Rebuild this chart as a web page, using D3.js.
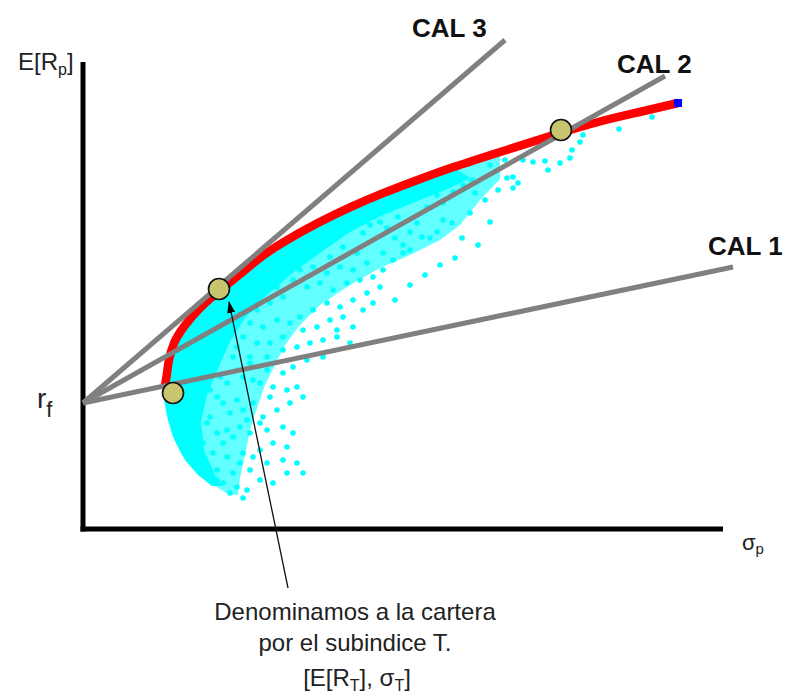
<!DOCTYPE html>
<html><head><meta charset="utf-8">
<script src="https://cdn.jsdelivr.net/npm/d3@7"></script>
<style>html,body{margin:0;padding:0;background:#fff;} svg{display:block;}</style>
</head><body><svg id="chart" width="790" height="696"></svg>
<script>
// ---------- data (sigma_p, E[R_p]) in chart units ----------
const riskFree = 12.6;
const frontier = [[8.2,14.4],[8.4,15.4],[8.5,16.6],[9.0,18.6],[10.0,20.2],[11.7,22.2],[13.7,23.9],[15.4,25.2],[17.7,27.2],[20.0,28.7],[23.4,30.6],[26.7,32.2],[30.0,33.6],[33.4,34.9],[36.7,36.1],[41.7,37.7],[47.7,39.6],[51.7,40.8],[55.7,41.7],[59.5,42.6]];
// mostly-covered (speckled) part of the feasible set: lower boundary
const cloudLower = [[41.7,35.0],[39.7,32.9],[37.7,30.4],[35.7,28.9],[32.7,27.4],[29.7,26.1],[26.7,24.4],[23.7,22.4],[21.7,20.4],[20.2,18.4],[19.2,16.4],[18.2,14.4],[17.5,12.4],[16.7,9.9],[16.2,7.4],[15.7,5.1],[15.5,3.4],[14.5,3.5],[12.9,4.5],[11.3,5.7],[9.9,7.4],[8.9,9.4],[8.3,11.7],[8.1,13.7]];
// solid part of the feasible set next to the frontier
const denseInner = [[38.7,35.1],[36.7,34.1],[33.7,32.9],[30.0,31.4],[26.7,29.7],[23.4,27.4],[20.7,25.4],[18.2,23.2],[16.2,21.1],[14.7,18.7],[13.5,16.1],[12.4,13.4],[11.8,10.7],[12.1,7.9],[13.2,5.4],[13.9,4.3]];
const denseLeft = [[12.9,4.3],[11.5,5.4],[10.2,6.9],[9.2,8.8],[8.5,10.9],[8.1,12.9],[8.1,14.1]];
const portfolios = [
[28.4,32.4],[29.7,32.7],[30.7,31.9],[31.5,31.2],[32.4,32.7],[33.4,33.1],[34.4,32.2],[35.4,33.4],[36.0,32.6],[37.0,33.7],[38.0,34.4],[38.9,34.9],[39.2,33.6],[36.9,30.6],[35.4,29.7],[34.7,29.1],[36.0,30.9],[33.4,30.6],[32.7,29.7],[33.9,29.2],[32.0,28.4],[31.2,29.1],[30.4,30.1],[29.7,30.7],[28.7,30.4],[28.0,29.6],[30.0,27.6],[31.0,26.9],[32.0,27.6],[32.7,27.9],
[20.7,28.2],[22.0,27.6],[23.4,27.9],[24.7,27.2],[26.0,28.2],[27.4,27.6],[28.4,26.6],[27.0,25.9],[25.7,26.2],[24.4,25.6],[23.0,26.2],[21.7,25.9],[21.0,24.9],[22.4,24.2],[23.7,24.6],[25.0,23.9],[26.4,24.6],[27.7,24.9],[29.0,25.2],[30.0,25.9],[29.7,24.2],[28.4,23.6],[27.0,22.9],[25.7,22.2],[24.4,22.6],[23.0,21.9],[21.7,21.2],[20.7,20.6],[22.0,19.9],[23.4,20.2],[24.7,20.9],[26.0,21.2],[27.0,20.2],[25.4,19.2],[24.0,18.9],[22.7,18.6],[21.4,18.2],[26.7,18.6],[24.0,17.2],[22.4,16.9],[21.0,16.2],[25.4,19.9],[28.0,21.9],[29.0,22.6],
[15.0,17.2],[16.7,16.6],[18.4,15.9],[20.0,15.6],[17.7,14.6],[16.0,15.2],[14.4,14.6],[13.4,13.2],[15.4,12.9],[17.0,12.6],[18.7,13.2],[20.4,13.9],[21.4,14.2],[20.7,12.6],[19.4,11.9],[18.0,11.2],[16.4,10.9],[14.7,11.6],[12.7,11.2],[13.4,9.6],[15.0,9.2],[16.7,9.6],[18.4,9.9],[20.0,10.2],[21.0,9.6],[20.4,8.2],[19.0,8.6],[17.7,7.9],[16.0,7.6],[14.4,7.2],[13.4,5.9],[15.0,5.6],[16.7,5.9],[18.4,6.6],[20.0,6.9],[21.4,6.6],[22.0,5.6],[20.4,5.6],[19.0,4.6],[17.7,4.9],[16.4,3.9],[15.4,4.2],[14.7,3.6],[16.0,3.1],[22.0,13.2],
[11.7,12.6],[12.4,10.6],[12.0,8.6],[13.0,7.6],[14.0,8.6],[14.4,9.9],[15.7,10.2],[14.0,12.6],[12.7,13.9],[13.7,15.2],[15.4,15.9],[17.0,14.9],[14.0,4.6],[13.4,4.9],[17.0,7.2],[15.7,6.6],[17.7,10.6],[16.0,11.9],[19.0,14.2],
[17.4,21.9],[18.7,22.6],[19.4,20.9],[18.0,20.2],[16.7,20.6],[16.0,19.2],[17.4,18.6],[18.7,18.6],[20.0,19.2],[20.0,17.9],[18.4,17.2],[16.7,17.2],[15.4,18.2],[15.0,20.2],[20.0,23.2],[19.4,24.2],
[42.4,35.1],[43.0,35.2],[43.5,34.6],[43.0,34.1],[44.0,36.9],[45.0,36.7],[46.2,36.8],[46.5,35.9],[47.7,36.6],[48.7,37.1],[48.9,37.9],[49.7,38.7],[50.0,39.4],[53.6,40.0],[56.9,41.2],
[40.7,36.4],[41.5,33.9],[40.2,32.9],[38.7,31.6],[40.7,30.7],[37.9,29.1],[39.5,28.4],[37.2,27.1],[35.7,26.4],[34.2,25.4],[32.7,24.4],[31.2,22.9],[42.2,36.9]
];
const calNames = ["CAL 1", "CAL 2", "CAL 3"];
const calEnds = [[65.0,26.2],[58.2,45.3],[42.2,48.9]];
const tangentPoints = [[9.0,13.6],[47.8,39.9],[13.6,24.0]];
const arrowTip = [14.6,22.7];
const arrowTail = [20.5,-5.9];
const yAxisTop = 46.7;
const xAxisEnd = 64;
const noteLines = ["Denominamos a la cartera", "por el subindice T."];

// ---------- layout ----------
const svg = d3.select("#chart");
const x = d3.scaleLinear().domain([0, 64]).range([83, 723]);
const y = d3.scaleLinear().domain([0, 48]).range([529, 49]);
const font = "'Liberation Sans', Arial, Helvetica, sans-serif";
const poly = d3.line().x(d => x(d[0])).y(d => y(d[1])).curve(d3.curveLinearClosed);

// speckled part of the feasible set
const cloudPoly = frontier.filter(d => d[0] <= 41.7).map(d => [d[0], d[1] + 0.3]).concat(cloudLower);
svg.append("path").attr("d", poly(cloudPoly))
  .attr("fill", "#00ffff").attr("fill-opacity", 0.62);

// dense part of the feasible set
const densePoly = frontier.filter(d => d[0] <= 37).map(d => [d[0], d[1] + 0.3]).concat(denseInner, denseLeft);
svg.append("path").attr("d", poly(densePoly)).attr("fill", "#00ffff");

// individual portfolios
svg.append("g").selectAll("circle").data(portfolios).join("circle")
  .attr("cx", d => x(d[0])).attr("cy", d => y(d[1])).attr("r", 2.8)
  .attr("fill", "#00ffff");

// efficient frontier
svg.append("path")
  .attr("d", d3.line().x(d => x(d[0])).y(d => y(d[1])).curve(d3.curveBasis)(frontier))
  .attr("fill", "none").attr("stroke", "#ff0000").attr("stroke-width", 8.5)
  .attr("stroke-linecap", "butt");
// blue ends of frontier
const lastF = frontier[frontier.length - 1], firstF = frontier[0];
svg.append("rect").attr("x", x(lastF[0]) - 4).attr("y", y(lastF[1]) - 4)
  .attr("width", 8).attr("height", 8).attr("fill", "#0000ff");
svg.append("rect").attr("x", x(firstF[0]) - 3).attr("y", y(firstF[1]) - 1)
  .attr("width", 4).attr("height", 3).attr("fill", "#3030e0");

// axes
svg.append("line").attr("x1", x(0)).attr("x2", x(0)).attr("y1", y(yAxisTop)).attr("y2", y(0) + 2.5)
  .attr("stroke", "#000").attr("stroke-width", 5);
svg.append("line").attr("x1", x(0) - 2.5).attr("x2", x(xAxisEnd)).attr("y1", y(0)).attr("y2", y(0))
  .attr("stroke", "#000").attr("stroke-width", 5);

// capital allocation lines
svg.append("g").selectAll("line").data(calEnds).join("line")
  .attr("x1", x(0)).attr("y1", y(riskFree))
  .attr("x2", d => x(d[0])).attr("y2", d => y(d[1]))
  .attr("stroke", "#808080").attr("stroke-width", 5);

// tangent portfolios
svg.append("g").selectAll("circle").data(tangentPoints).join("circle")
  .attr("cx", d => x(d[0])).attr("cy", d => y(d[1])).attr("r", 10.5)
  .attr("fill", "#c9c46e").attr("stroke", "#111").attr("stroke-width", 1.6);

// arrow
const defs = svg.append("defs");
defs.append("marker").attr("id", "arr").attr("viewBox", "0 0 12 8")
  .attr("refX", 11).attr("refY", 4).attr("markerWidth", 12).attr("markerHeight", 8)
  .attr("markerUnits", "userSpaceOnUse").attr("orient", "auto")
  .append("path").attr("d", "M0,0 L12,4 L0,8 Z").attr("fill", "#000");
svg.append("line")
  .attr("x1", x(arrowTail[0])).attr("y1", y(arrowTail[1]))
  .attr("x2", x(arrowTip[0])).attr("y2", y(arrowTip[1]))
  .attr("stroke", "#111").attr("stroke-width", 1.3).attr("marker-end", "url(#arr)");

// CAL labels
const calLabelPos = [[708, 255], [617, 73], [412, 37]];
svg.append("g").selectAll("text").data(calNames).join("text")
  .attr("x", (d, i) => calLabelPos[i][0]).attr("y", (d, i) => calLabelPos[i][1])
  .attr("font-family", font).attr("font-weight", "bold").attr("font-size", 26)
  .attr("fill", "#111").text(d => d);

// axis labels
const tE = svg.append("text").attr("x", 18).attr("y", 70).attr("font-family", font)
  .attr("font-size", 24).attr("fill", "#222");
tE.append("tspan").text("E[R");
tE.append("tspan").attr("font-size", 16).attr("dy", 5).text("p");
tE.append("tspan").attr("dy", -5).text("]");

const tR = svg.append("text").attr("x", 37).attr("y", 408).attr("font-family", font)
  .attr("font-size", 28).attr("fill", "#222");
tR.append("tspan").text("r");
tR.append("tspan").attr("font-size", 22).attr("dy", 9).text("f");

const tS = svg.append("text").attr("x", 742).attr("y", 550).attr("font-family", font)
  .attr("font-size", 22).attr("fill", "#222");
tS.append("tspan").text("σ");
tS.append("tspan").attr("font-size", 15).attr("dy", 4).text("p");

// annotation
svg.append("g").selectAll("text").data(noteLines).join("text")
  .attr("x", 355).attr("y", (d, i) => 620 + i * 31)
  .attr("text-anchor", "middle").attr("font-family", font).attr("font-size", 24)
  .attr("fill", "#222").text(d => d);
const tN = svg.append("text").attr("x", 357).attr("y", 686).attr("text-anchor", "middle")
  .attr("font-family", font).attr("font-size", 24).attr("fill", "#222");
tN.append("tspan").text("[E[R");
tN.append("tspan").attr("font-size", 16).attr("dy", 5).text("T");
tN.append("tspan").attr("dy", -5).text("], σ");
tN.append("tspan").attr("font-size", 16).attr("dy", 5).text("T");
tN.append("tspan").attr("dy", -5).text("]");
</script>
</body></html>
